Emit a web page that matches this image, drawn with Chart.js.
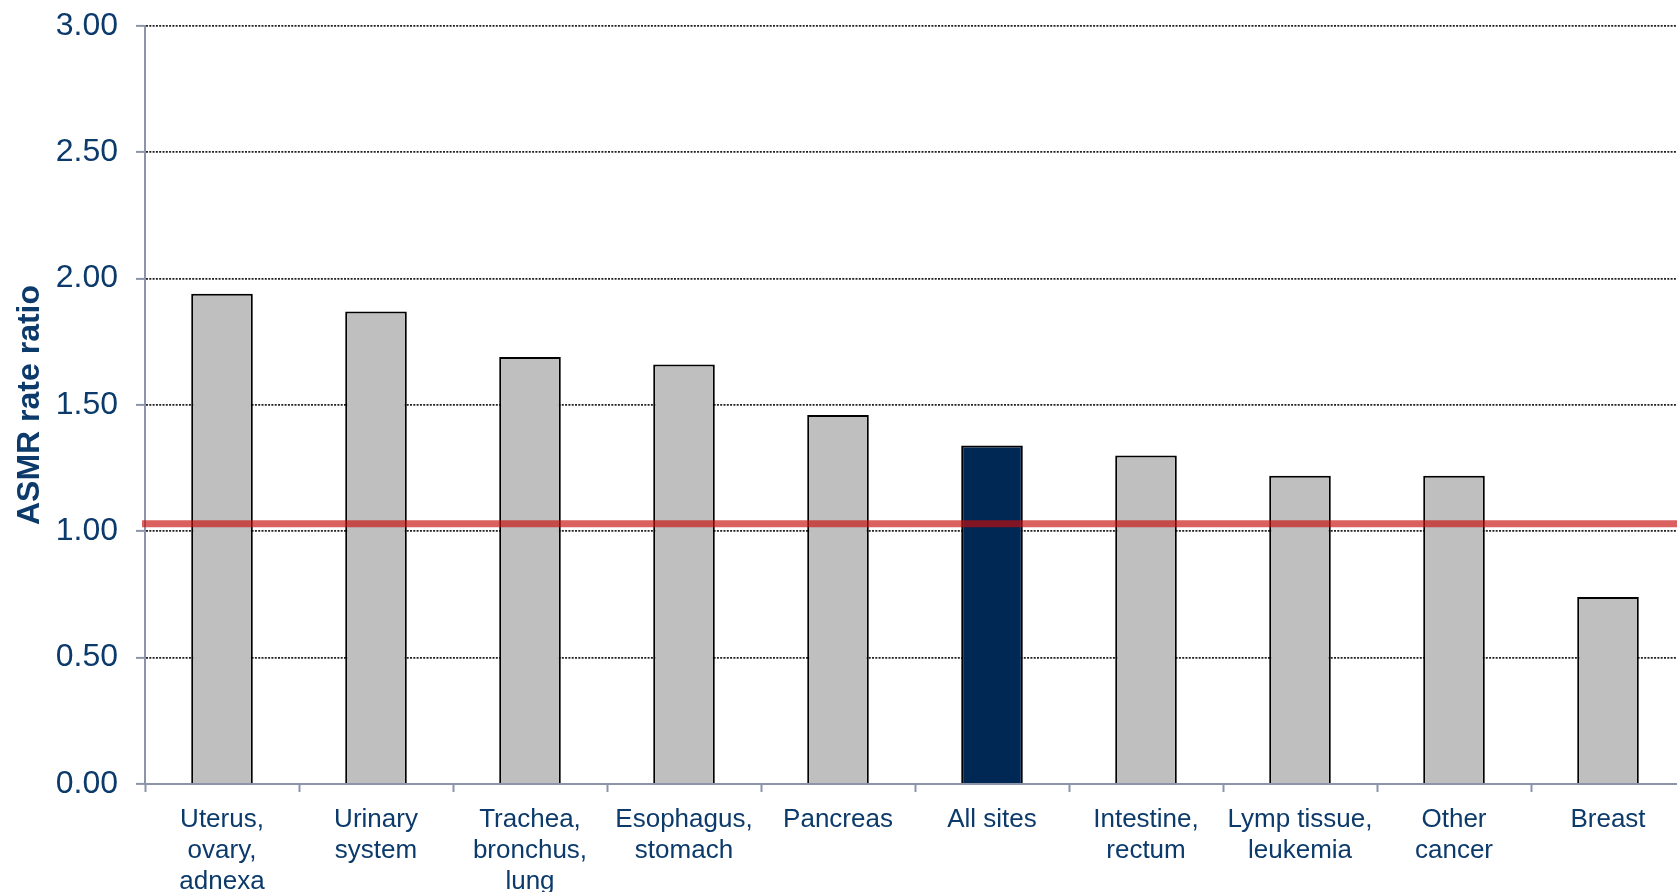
<!DOCTYPE html>
<html>
<head>
<meta charset="utf-8">
<title>ASMR rate ratio</title>
<script src="https://cdn.jsdelivr.net/npm/chart.js@4.4.1/dist/chart.umd.min.js"></script>
<style>
  html, body { margin: 0; padding: 0; background: #fff; overflow: hidden; }
  #wrap { position: absolute; left: 0; top: 0; width: 1700px; height: 892px; }
</style>
</head>
<body>
<div id="wrap"><canvas id="grafico"></canvas></div>
<script>
// Categorías (cada etiqueta en varias líneas) y razones ASMR
const categorias = [
  ['Uterus,', 'ovary,', 'adnexa'],
  ['Urinary', 'system'],
  ['Trachea,', 'bronchus,', 'lung'],
  ['Esophagus,', 'stomach'],
  ['Pancreas'],
  ['All sites'],
  ['Intestine,', 'rectum'],
  ['Lymp tissue,', 'leukemia'],
  ['Other', 'cancer'],
  ['Breast']
];
const razones = [1.94, 1.87, 1.69, 1.66, 1.46, 1.34, 1.30, 1.22, 1.22, 0.74];
const ticksY = [0, 0.5, 1.0, 1.5, 2.0, 2.5, 3.0];
const lineaReferencia = 1.03;
const categoriaDestacada = 'All sites';

const AZUL_TEXTO = '#0b3a6b';
const GRIS_EJE = '#8c95a8';
const FUENTE = '"Liberation Sans", Arial, sans-serif';

// Barra destacada en azul marino, el resto en gris
const coloresBarras = categorias.map(c =>
  c.join(' ') === categoriaDestacada ? '#002855' : '#bfbfbf'
);

// Línea roja horizontal sobre las barras
const pluginLineaRoja = {
  id: 'lineaRoja',
  afterDatasetsDraw(chart) {
    const { ctx, chartArea, scales } = chart;
    const y = scales.y.getPixelForValue(lineaReferencia);
    ctx.save();
    ctx.strokeStyle = 'rgba(200, 10, 10, 0.65)';
    ctx.lineWidth = 7;
    ctx.beginPath();
    ctx.moveTo(chartArea.left - 3, y);
    ctx.lineTo(chartArea.right, y);
    ctx.stroke();
    ctx.restore();
  }
};

const ctx = document.getElementById('grafico').getContext('2d');

new Chart(ctx, {
  type: 'bar',
  data: {
    labels: categorias,
    datasets: [{
      label: 'ASMR rate ratio',
      data: razones,
      backgroundColor: coloresBarras,
      borderColor: '#000',
      borderWidth: 2,
      barPercentage: 0.4,
      categoryPercentage: 1.0
    }]
  },
  options: {
    responsive: true,
    maintainAspectRatio: false,
    animation: false,
    layout: {
      padding: { top: 26, right: 15, bottom: 0, left: 0 }
    },
    plugins: {
      legend: { display: false },
      tooltip: { enabled: false }
    },
    scales: {
      x: {
        afterFit: scale => {
          scale.height = 108;
          scale.paddingLeft = 0;
          scale.paddingRight = 0;
        },
        grid: {
          offset: true,
          drawOnChartArea: false,
          tickLength: 8,
          tickColor: GRIS_EJE,
          tickWidth: 2
        },
        border: { color: GRIS_EJE, width: 2 },
        ticks: {
          color: AZUL_TEXTO,
          padding: 12,
          maxRotation: 0,
          autoSkip: false,
          font: { family: FUENTE, size: 26, lineHeight: '31px' }
        }
      },
      y: {
        min: 0,
        max: 3,
        afterFit: scale => {
          scale.width = 145;
          scale.paddingTop = 0;
          scale.paddingBottom = 0;
        },
        afterBuildTicks: scale => { scale.ticks = ticksY.map(v => ({ value: v })); },
        grid: {
          color: '#222',
          lineWidth: 1.8,
          tickLength: 9,
          tickColor: GRIS_EJE,
          tickWidth: 2,
          tickBorderDash: []
        },
        border: { color: GRIS_EJE, width: 2, dash: [2, 1.3] },
        ticks: {
          color: AZUL_TEXTO,
          padding: 18,
          font: { family: FUENTE, size: 32 },
          callback: v => Number(v).toFixed(2)
        },
        title: {
          display: true,
          text: 'ASMR rate ratio',
          color: AZUL_TEXTO,
          padding: { top: 11, bottom: 0 },
          font: { family: FUENTE, size: 32, weight: 'bold' }
        }
      }
    }
  },
  plugins: [pluginLineaRoja]
});
</script>
</body>
</html>
